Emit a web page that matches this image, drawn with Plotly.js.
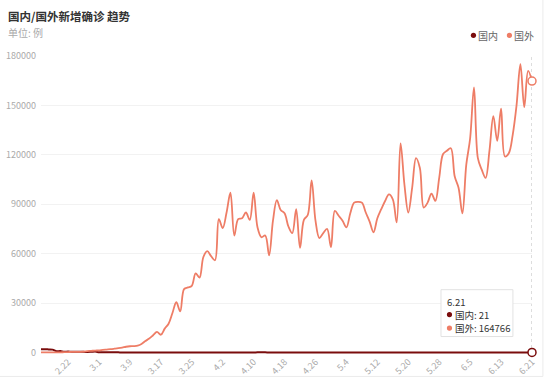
<!DOCTYPE html>
<html>
<head>
<meta charset="utf-8">
<script src="https://cdn.plot.ly/plotly-3.0.1.min.js"></script>
<style>
html,body{margin:0;padding:0;background:#fff;}
#chart{width:550px;height:388px;}
</style>
</head>
<body>
<div id="chart"></div>
<script>
// categories: daily dates 2.15 .. 6.21
var dates = [
 "2.15","2.16","2.17","2.18","2.19","2.20","2.21","2.22","2.23","2.24","2.25","2.26","2.27","2.28","2.29",
 "3.1","3.2","3.3","3.4","3.5","3.6","3.7","3.8","3.9","3.10","3.11","3.12","3.13","3.14","3.15","3.16","3.17","3.18","3.19","3.20","3.21","3.22","3.23","3.24","3.25","3.26","3.27","3.28","3.29","3.30","3.31",
 "4.1","4.2","4.3","4.4","4.5","4.6","4.7","4.8","4.9","4.10","4.11","4.12","4.13","4.14","4.15","4.16","4.17","4.18","4.19","4.20","4.21","4.22","4.23","4.24","4.25","4.26","4.27","4.28","4.29","4.30",
 "5.1","5.2","5.3","5.4","5.5","5.6","5.7","5.8","5.9","5.10","5.11","5.12","5.13","5.14","5.15","5.16","5.17","5.18","5.19","5.20","5.21","5.22","5.23","5.24","5.25","5.26","5.27","5.28","5.29","5.30","5.31",
 "6.1","6.2","6.3","6.4","6.5","6.6","6.7","6.8","6.9","6.10","6.11","6.12","6.13","6.14","6.15","6.16","6.17","6.18","6.19","6.20","6.21"
];

// 国内 daily new confirmed
var domestic = [
 2009,2048,1886,1749,820,889,397,648,409,508,406,433,327,427,573,
 202,125,119,139,143,99,44,40,19,24,15,8,11,20,16,21,13,34,39,41,46,39,78,47,67,55,54,45,31,48,36,
 35,31,19,30,39,32,62,63,42,46,99,108,89,46,46,26,27,16,12,11,30,10,6,11,12,3,6,22,4,12,
 2,1,2,3,1,2,4,1,14,17,1,7,3,4,5,8,5,6,5,4,2,3,3,11,7,1,2,4,4,4,16,
 16,5,6,5,5,6,4,3,2,11,2,11,57,49,40,44,28,25,32,26,21
];

// 国外 daily new confirmed
var foreign = [
 60,50,80,70,90,120,200,280,350,380,420,500,800,1000,1200,
 1300,1600,1800,2000,2300,2600,3000,3500,3800,3900,4200,5200,7000,8500,10500,12500,10800,14500,17500,24000,30500,25000,38500,39500,40500,48000,45500,58000,61500,58500,56000,
 81000,75500,85000,97000,71000,81000,81500,85000,80500,97000,76000,70000,71000,59000,80000,92500,86500,84500,76500,72500,87000,63500,80500,83500,104500,80000,69500,72500,75000,64000,
 86000,83000,80000,76000,84500,91000,91500,91000,85000,79500,73000,81500,87000,92000,96000,93000,79000,127000,102000,85000,100000,118000,112000,88000,91000,96500,92000,106000,120500,122500,124000,
 107000,100000,84500,114000,130000,161000,118000,111000,106000,122500,143500,128500,148000,119000,121000,132000,150000,175000,149000,171000,164766
];

var xTickLabels = ["2.22","3.1","3.9","3.17","3.25","4.2","4.10","4.18","4.26","5.4","5.12","5.20","5.28","6.5","6.13","6.21"];
var yTicks = [0,30000,60000,90000,120000,150000,180000];

var names = ["国内","国外"];
var colDom = "#7a0c0c";
var colFor = "#ee7d66";
var FONT = '"Noto Sans CJK SC","Noto Sans",sans-serif';

var last = dates.length - 1;

// plot area geometry (pixels) -> paper coords for decorations
var PL = 40.7, PR = 532.1, PT = 55.7, PB = 354.5;
function px(x) { return (x - PL) / (PR - PL); }
function py(y) { return (PB - y) / (PB - PT); }

var traces = [
  {x: dates, y: domestic, type: "scatter", mode: "lines", name: names[0], showlegend: false,
   line: {color: colDom, width: 2, shape: "spline", smoothing: 0.8}, hoverinfo: "skip"},
  {x: dates, y: foreign, type: "scatter", mode: "lines", name: names[1], showlegend: false,
   line: {color: colFor, width: 1.8, shape: "spline", smoothing: 1}, hoverinfo: "skip"},
  {x: [dates[last]], y: [foreign[last]], type: "scatter", mode: "markers", showlegend: false, cliponaxis: false,
   marker: {size: 8, color: "#fff", line: {color: colFor, width: 1.5}}, hoverinfo: "skip"},
  {x: [dates[last]], y: [domestic[last]], type: "scatter", mode: "markers", showlegend: false, cliponaxis: false,
   marker: {size: 8, color: "#fff", line: {color: colDom, width: 1.5}}, hoverinfo: "skip"}
];

function dotShape(cx, cy, c, r) {
  return {type: "circle", xref: "paper", yref: "paper", xsizemode: "pixel", ysizemode: "pixel",
          xanchor: px(cx), yanchor: py(cy), x0: -r, x1: r, y0: -r, y1: r,
          fillcolor: c, line: {width: 0}, layer: "above"};
}
function label(x, y, text, size, color) {
  return {xref: "paper", yref: "paper", x: px(x - 2), y: py(y), xanchor: "left", yanchor: "middle",
          text: text, showarrow: false, font: {family: FONT, size: size, color: color}};
}

var layout = {
  width: 550, height: 388,
  margin: {l: PL, r: 550 - PR, t: PT, b: 388 - PB, pad: 0},
  paper_bgcolor: "#fff", plot_bgcolor: "#fff",
  font: {family: FONT, size: 9, color: "#999"},
  title: {text: "国内/国外新增确诊 趋势", x: 8/550, xanchor: "left", xref: "container",
          y: 1 - 17/388, yanchor: "middle", yref: "container",
          font: {family: FONT, size: 11.5, color: "#333", weight: 700}},
  showlegend: false,
  xaxis: {type: "category", range: [0, last], tickmode: "array", tickvals: xTickLabels, ticktext: xTickLabels,
          tickangle: -45, showgrid: false, zeroline: false, showline: false, ticks: "",
          tickfont: {family: FONT, size: 9, color: "#aaa"}, fixedrange: true},
  yaxis: {range: [-900, 180000], tickmode: "array", tickvals: yTicks, tickformat: "d",
          showgrid: true, gridcolor: "#f2f2f2", gridwidth: 1, zeroline: false, showline: false, ticks: "",
          ticklabelstandoff: 4,
          tickfont: {family: FONT, size: 9, color: "#aaa"}, fixedrange: true},
  annotations: [
    label(8, 32, "单位: 例", 10, "#aaa"),
    label(478, 35, names[0], 10, "#666"),
    label(514, 35, names[1], 10, "#666"),
    label(447, 302.5, dates[last], 9.5, "#333"),
    label(455, 315, names[0] + ": " + domestic[last], 9.5, "#333"),
    label(455, 328.5, names[1] + ": " + foreign[last], 9.5, "#333")
  ],
  shapes: [
    {type: "line", xref: "x", yref: "paper", x0: last, x1: last, y0: 0, y1: 1.0,
     line: {color: "#bbb", width: 1, dash: "dot"}, layer: "below"},
    {type: "line", xref: "paper", yref: "paper", x0: -0.2, x1: px(543), y0: py(377), y1: py(377),
     line: {color: "#ebebeb", width: 1}},
    {type: "line", xref: "paper", yref: "paper", x0: px(543), x1: px(543), y0: py(377), y1: 1.3,
     line: {color: "#ebebeb", width: 1}},
    {type: "rect", xref: "paper", yref: "paper", x0: px(441), x1: px(513), y0: py(337), y1: py(290),
     fillcolor: "#fff", line: {color: "#e2e2e2", width: 1}, layer: "above"},
    dotShape(473.5, 35, colDom, 2.6),
    dotShape(509.5, 35, colFor, 2.6),
    dotShape(449.5, 315, colDom, 2.6),
    dotShape(449.5, 328.5, colFor, 2.6)
  ]
};

Plotly.newPlot("chart", traces, layout, {displayModeBar: false, staticPlot: true});
</script>
</body>
</html>
